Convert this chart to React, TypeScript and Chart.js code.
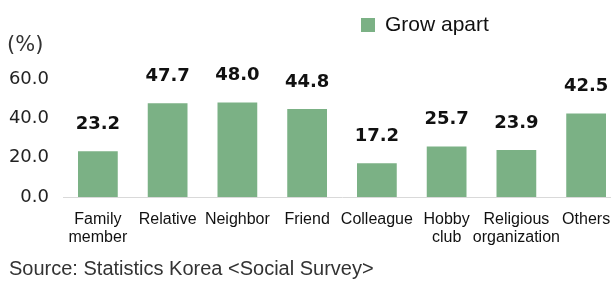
import React, { useEffect, useRef } from "react";
import { Chart, registerables } from "chart.js";

Chart.register(...registerables);

const categories: (string | string[])[] = [
  ["Family", "member"],
  "Relative",
  "Neighbor",
  "Friend",
  "Colleague",
  ["Hobby", "club"],
  ["Religious", "organization"],
  "Others",
];
const growApart = [23.2, 47.7, 48.0, 44.8, 17.2, 25.7, 23.9, 42.5];
const yTicks = [0, 20, 40, 60];
const seriesLabel = "Grow apart";
const unitLabel = "(%)";
const sourceText = "Source: Statistics Korea <Social Survey>";

const BAR_COLOR = "#7bb185";

const overlayPlugin = {
  id: "overlay",
  afterDatasetsDraw(chart: any) {
    const ctx = chart.ctx;
    const meta = chart.getDatasetMeta(0);
    ctx.save();
    ctx.fillStyle = "#111";
    ctx.font = "bold 18px 'DejaVu Sans'";
    ctx.textAlign = "center";
    ctx.textBaseline = "middle";
    meta.data.forEach((bar: any, i: number) => {
      ctx.fillText(growApart[i].toFixed(1), bar.x, bar.y - 27);
    });

    // unit label
    ctx.textAlign = "left";
    ctx.font = "21px 'DejaVu Sans'";
    ctx.fillStyle = "#333";
    ctx.fillText(unitLabel, 7, 46);

    // legend
    ctx.fillStyle = BAR_COLOR;
    ctx.fillRect(361, 18, 14, 14);
    ctx.fillStyle = "#111";
    ctx.font = "21px 'Liberation Sans'";
    ctx.fillText(seriesLabel, 385, 25);

    // source
    ctx.fillStyle = "#333";
    ctx.font = "20px 'Liberation Sans'";
    ctx.fillText(sourceText, 9, 269);
    ctx.restore();
  },
};

export default function App() {
  const ref = useRef<HTMLCanvasElement>(null);
  useEffect(() => {
    if (!ref.current) return;
    const chart = new Chart(ref.current, {
      type: "bar",
      data: {
        labels: categories,
        datasets: [
          {
            label: seriesLabel,
            data: growApart,
            backgroundColor: BAR_COLOR,
            barPercentage: 0.57,
            categoryPercentage: 1,
          },
        ],
      },
      options: {
        responsive: false,
        animation: false,
        layout: { padding: { top: 79, left: 0, right: 9, bottom: 0 } },
        plugins: { legend: { display: false }, tooltip: { enabled: false } },
        scales: {
          x: {
            grid: { display: false, drawTicks: false },
            border: { display: true, color: "#d9d9d9", width: 1 },
            ticks: {
              autoSkip: false,
              maxRotation: 0,
              minRotation: 0,
              padding: 13,
              color: "#111",
              font: { family: "'Liberation Sans'", size: 16, lineHeight: 1.15 },
            },
            afterFit(scale: any) {
              scale.height = 84;
            },
          },
          y: {
            min: 0,
            max: 60,
            grid: { display: false, drawTicks: false },
            border: { display: false },
            afterBuildTicks(scale: any) {
              scale.ticks = yTicks.map((v) => ({ value: v }));
            },
            ticks: {
              padding: 14,
              color: "#222",
              font: { family: "'DejaVu Sans'", size: 18 },
              callback: (v: any) => Number(v).toFixed(1),
            },
            afterFit(scale: any) {
              scale.width = 63;
            },
          },
        },
      },
      plugins: [overlayPlugin],
    });
    return () => chart.destroy();
  }, []);
  return (
    <div
      style={{
        position: "absolute",
        left: 0,
        top: 0,
        width: 611,
        height: 281,
        overflow: "hidden",
        background: "#fff",
      }}
    >
      <canvas ref={ref} width={630} height={281} style={{ display: "block" }} />
    </div>
  );
}
